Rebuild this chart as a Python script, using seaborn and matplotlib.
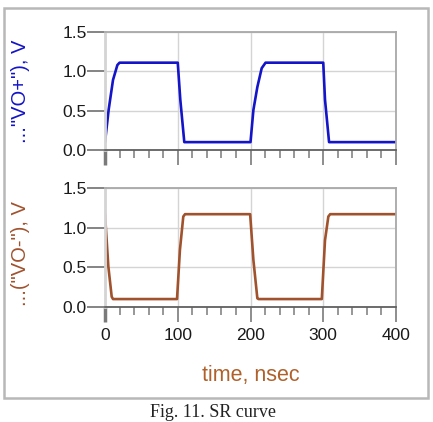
import matplotlib
matplotlib.use("Agg")
import matplotlib.pyplot as plt
import seaborn as sns
from matplotlib.patches import Rectangle
from matplotlib.ticker import MultipleLocator

# Data (time in nsec, voltage in V)
t_pos = [0, 5, 11, 17, 20, 100, 103.5, 109, 200, 204, 209.4, 215.4, 220.7, 300, 302.4, 308, 400]
v_pos = [0.10, 0.51, 0.89, 1.08, 1.11, 1.11, 0.64, 0.10, 0.10, 0.51, 0.80, 1.04, 1.11, 1.11, 0.64, 0.10, 0.10]

t_neg = [0, 4.6, 9.2, 11, 99, 103, 107.6, 110, 199.5, 204, 209.4, 211, 298, 302.4, 307, 309.5, 400]
v_neg = [1.17, 0.51, 0.13, 0.10, 0.10, 0.72, 1.14, 1.17, 1.17, 0.59, 0.11, 0.10, 0.10, 0.84, 1.14, 1.17, 1.17]

y_ticks = [0.0, 0.5, 1.0, 1.5]
x_ticks = [0, 100, 200, 300, 400]

blue = "#1414c8"
brown = "#a0522d"

sns.set_style("white")
plt.rcParams["font.family"] = ["Liberation Sans", "DejaVu Sans"]

fig = plt.figure(figsize=(4.33, 4.22), dpi=100)

# outer gray frame
fig.patches.append(Rectangle((4 / 433, 1 - 398 / 422), 424 / 433, 390 / 422,
                             transform=fig.transFigure, fill=False,
                             edgecolor="#b8b8b8", linewidth=1.8))

ax1 = fig.add_axes([105 / 433, 1 - 150 / 422, 291 / 433, 118 / 422])
ax2 = fig.add_axes([105 / 433, 1 - 307 / 422, 291 / 433, 119 / 422])

sns.lineplot(x=t_pos, y=v_pos, ax=ax1, color=blue, linewidth=1.9,
             sort=False, estimator=None)
sns.lineplot(x=t_neg, y=v_neg, ax=ax2, color=brown, linewidth=1.9,
             sort=False, estimator=None)

for ax in (ax1, ax2):
    ax.set_xlim(0, 400)
    ax.set_ylim(0, 1.5)
    ax.set_xticks(x_ticks)
    ax.xaxis.set_minor_locator(MultipleLocator(20))
    ax.set_yticks(y_ticks)
    ax.set_yticklabels([f"{v:.1f}" for v in y_ticks])
    ax.grid(True, which="major", color="#d4d4d4", linewidth=1.0)
    ax.tick_params(axis="x", which="major", bottom=True, direction="out", length=11,
                   width=1.2, color="#7a7a7a", labelsize=12.5,
                   labelcolor="#1a1a1a", pad=4)
    ax.tick_params(axis="x", which="minor", bottom=True, direction="out", length=6,
                   width=1.1, color="#7a7a7a")
    ax.tick_params(axis="y", which="major", left=True, direction="out", length=13,
                   width=1.2, color="#707070", labelsize=12.5,
                   labelcolor="#1a1a1a", pad=0)
    # light first major tick (continuation of the x=0 grid line)
    ax.xaxis.get_major_ticks()[0].tick1line.set_color("#d0d0d0")
    ax.xaxis.get_major_ticks()[0].tick1line.set_markeredgewidth(2.5)
    for tk, loc in zip(ax.xaxis.get_minor_ticks(), ax.xaxis.get_minorticklocs()):
        if loc % 100 in (60, 80):
            tk.tick1line.set_color("#c8c8c8")
    ax.spines["top"].set_color("#a8a8a8")
    ax.spines["right"].set_color("#a8a8a8")
    ax.spines["left"].set_color("#d4d4d4")
    ax.spines["left"].set_linewidth(2.0)
    ax.spines["bottom"].set_color("#606060")
    ax.spines["bottom"].set_linewidth(1.3)
    ax.spines["top"].set_linewidth(1.3)
    ax.spines["right"].set_linewidth(1.3)
    ax.set_xlabel("")

ax1.set_xticklabels([])
ax1.set_ylabel('..."VO+"), V', color=blue, fontsize=14.5)
ax2.set_ylabel('...("VO-"), V', color=brown, fontsize=14.5)
ax1.yaxis.set_label_coords(-75 / 291, 0.5)
ax2.yaxis.set_label_coords(-75 / 291, 0.45)

ax2.set_xlabel("time, nsec", color="#b0602a", fontsize=15.5, labelpad=16)

fig.text(213 / 433, 1 - 421 / 422, "Fig. 11. SR curve", ha="center", va="bottom",
         fontsize=13, family=["Liberation Serif", "DejaVu Serif"], color="#222222")

fig.savefig("out.png", dpi=100)
